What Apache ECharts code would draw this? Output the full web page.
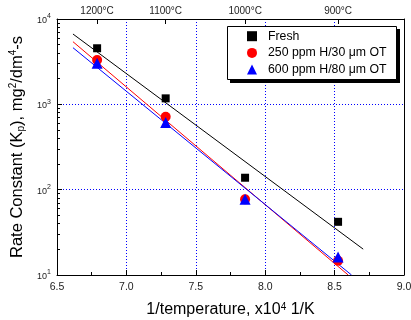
<!DOCTYPE html>
<html><head><meta charset="utf-8">
<script src="https://cdn.jsdelivr.net/npm/echarts@6/dist/echarts.min.js"></script>
<style>html,body{margin:0;padding:0;background:#fff}#c{width:411px;height:320px}</style>
</head><body><div id="c"></div>
<script>
// data
const invT = [6.789, 7.283, 7.855, 8.525];
const fresh = [4540, 1175, 138, 42];
const h250 = [3300, 716, 77, 14.7];
const h600 = [3020, 614, 77, 16.3];
const freshFitX = [6.615, 8.706];
const freshFitY = [6670, 20.1];
const h250FitX = [6.615, 8.598];
const h250FitY = [5420, 10];
const h600FitX = [6.615, 8.622];
const h600FitY = [4610, 10];
const tempLabels = [1200, 1100, 1000, 900];
const yMinor = [2,3,4,5,6,7,8,9,20,30,40,50,60,70,80,90,200,300,400,500,600,700,800,900,2000,3000,4000,5000,6000,7000,8000,9000];
const names = ['Fresh', '250 ppm H/30 \u03bcm OT', '600 ppm H/80 \u03bcm OT'];

const tempPos = tempLabels.map(t => 1e4 / (t + 273));
const zip = (a, b) => a.map((v, i) => [v, b[i]]);
const FONT = 'Arial, "Liberation Sans", sans-serif';
const grid = {color: '#0000ff', type: [1, 2], width: 1};

const chart = echarts.init(document.getElementById('c'), null, {renderer: 'canvas'});
chart.setOption({
  animation: false,
  textStyle: {fontFamily: FONT},
  grid: {left: 57, right: 7, top: 19, bottom: 45, containLabel: false, outerBoundsMode: 'none'},
  graphic: [
    {type: 'rect', shape: {x: 230, y: 29, width: 170, height: 54}, style: {fill: '#000'}, z: 1, silent: true},
    {type: 'rect', shape: {x: 227.5, y: 26.5, width: 169, height: 53}, style: {fill: '#fff', stroke: '#000', lineWidth: 1}, z: 2, silent: true}
  ],
  legend: {
    orient: 'vertical', left: 227, top: 26, z: 10,
    data: names,
    itemWidth: 10, itemHeight: 10, itemGap: 2.7,
    padding: [3.2, 0, 0, 20],
    textStyle: {fontSize: 12.3, lineHeight: 14, color: '#000', fontFamily: FONT, padding: [0, 0, 0, 6]},
    backgroundColor: 'transparent', borderWidth: 0
  },
  xAxis: [{
    type: 'value', position: 'bottom', min: 6.5, max: 9, interval: 0.5,
    axisLine: {lineStyle: {color: '#000', width: 1}},
    axisTick: {inside: true, length: 5, lineStyle: {color: '#000'}},
    minorTick: {show: true, splitNumber: 2, length: 3, lineStyle: {color: '#000'}},
    axisLabel: {fontSize: 10.5, color: '#222', margin: 7, formatter: v => v.toFixed(1)},
    splitLine: {show: true, lineStyle: grid},
    name: '1/temperature, x10{s|4} 1/K', nameLocation: 'middle', nameGap: 27,
    nameTextStyle: {fontSize: 16, color: '#000', rich: {s: {fontSize: 10, verticalAlign: 'top', lineHeight: 16}}}
  }, {
    type: 'value', position: 'top', min: 6.5, max: 9,
    axisLine: {lineStyle: {color: '#000', width: 1}},
    axisTick: {inside: true, length: 5, customValues: tempPos, lineStyle: {color: '#000'}},
    axisLabel: {fontSize: 10, color: '#222', margin: 3, customValues: tempPos,
      formatter: v => { let k = 0; tempPos.forEach((p, i) => { if (Math.abs(p - v) < Math.abs(tempPos[k] - v)) k = i; }); return tempLabels[k] + '\u00b0C'; }},
    splitLine: {show: false}
  }],
  yAxis: [{
    type: 'log', logBase: 10, min: 10, max: 10000, position: 'left',
    axisLine: {show: true, lineStyle: {color: '#000', width: 1}},
    axisTick: {inside: true, length: 5, lineStyle: {color: '#000'}},
    axisLabel: {margin: 6, formatter: v => '{b|10}{s|' + Math.round(Math.log(v) / Math.LN10) + '}',
      rich: {b: {fontSize: 9, color: '#222', verticalAlign: 'bottom', lineHeight: 12}, s: {fontSize: 7, color: '#222', verticalAlign: 'top', lineHeight: 12}}},
    splitLine: {show: true, lineStyle: grid},
    name: 'Rate Constant (K{sub|p}), mg{s|2}/dm{s|4}-s', nameLocation: 'middle', nameGap: 25,
    nameTextStyle: {fontSize: 16.5, color: '#000', lineHeight: 18,
      rich: {s: {fontSize: 10, verticalAlign: 'top', lineHeight: 18}, sub: {fontSize: 10, verticalAlign: 'bottom', lineHeight: 18}}}
  }, {
    type: 'log', logBase: 10, min: 10, max: 10000, position: 'left',
    axisLine: {show: false},
    axisTick: {inside: true, length: 3, customValues: yMinor, lineStyle: {color: '#000'}},
    axisLabel: {show: false}, splitLine: {show: false}
  }, {
    type: 'log', logBase: 10, min: 10, max: 10000, position: 'right',
    axisLine: {show: true, lineStyle: {color: '#000', width: 1}},
    axisTick: {show: false}, axisLabel: {show: false}, splitLine: {show: false}
  }],
  series: [
    {type: 'line', data: zip(freshFitX, freshFitY), showSymbol: false, symbol: 'none', lineStyle: {color: '#000', width: 1}, z: 2, silent: true},
    {type: 'line', data: zip(h250FitX, h250FitY), showSymbol: false, symbol: 'none', lineStyle: {color: '#ff0000', width: 1}, z: 2, silent: true},
    {type: 'line', data: zip(h600FitX, h600FitY), showSymbol: false, symbol: 'none', lineStyle: {color: '#0000ff', width: 1}, z: 2, silent: true},
    {name: names[0], type: 'scatter', data: zip(invT, fresh), symbol: 'rect', symbolSize: 8, itemStyle: {color: '#000', opacity: 1}, z: 3},
    {name: names[1], type: 'scatter', data: zip(invT, h250), symbol: 'circle', symbolSize: 10, itemStyle: {color: '#ff0000', opacity: 1}, z: 3},
    {name: names[2], type: 'scatter', data: zip(invT, h600), symbol: 'triangle', symbolSize: 11, itemStyle: {color: '#0000ff', opacity: 1}, z: 4}
  ]
});
</script></body></html>
